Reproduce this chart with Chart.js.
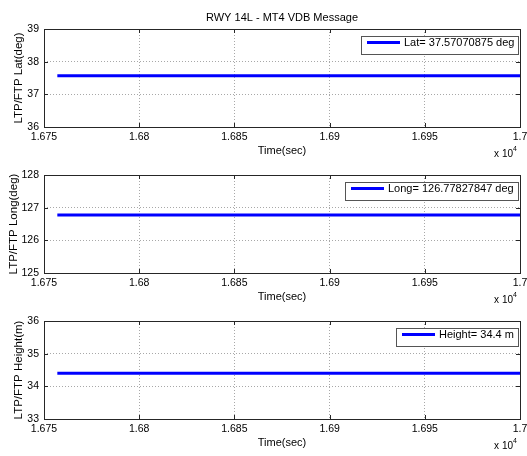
<!DOCTYPE html>
<html>
<head>
<meta charset="utf-8">
<title>RWY 14L - MT4 VDB Message</title>
<script src="https://cdn.jsdelivr.net/npm/chart.js@4.4.0/dist/chart.umd.min.js"></script>
<style>
  html, body { margin: 0; padding: 0; background: #fff; }
  #figure { position: relative; width: 527px; height: 456px; overflow: hidden; }
  .panel { position: absolute; left: 0; width: 527px; height: 164px; }
</style>
</head>
<body>
<div id="figure">
  <div class="panel" style="top:0px"><canvas id="lat-chart" width="527" height="164"></canvas></div>
  <div class="panel" style="top:146px"><canvas id="long-chart" width="527" height="164"></canvas></div>
  <div class="panel" style="top:292px"><canvas id="height-chart" width="527" height="164"></canvas></div>
</div>
<script>
const FONT = '"Liberation Sans", Arial, Helvetica, sans-serif';

// time stamps (sec) of the first and last samples
const timeSec = [16757, 17000];
const latDeg = [37.57070875, 37.57070875];
const longDeg = [126.77827847, 126.77827847];
const heightM = [34.4, 34.4];

const timeTicks = [16750, 16800, 16850, 16900, 16950, 17000];
const latTicks = [36, 37, 38, 39];
const longTicks = [125, 126, 127, 128];
const heightTicks = [33, 34, 35, 36];

const figTitle = "RWY 14L - MT4 VDB Message";
const xTitle = "Time(sec)";

function formatTime(value) {
  return String(Number((value / 10000).toFixed(4)));
}

// MATLAB-like axes box, inward ticks, in-axes legend and x10^4 multiplier
const matlabAxes = {
  id: "matlabAxes",
  afterDraw(chart) {
    const { ctx, chartArea: a, scales } = chart;
    ctx.save();

    ctx.strokeStyle = "#262626";
    ctx.lineWidth = 1;
    ctx.beginPath();
    for (const t of scales.x.ticks) {
      const px = Math.round(scales.x.getPixelForValue(t.value)) + 0.5;
      ctx.moveTo(px, a.bottom);
      ctx.lineTo(px, a.bottom - 4);
      ctx.moveTo(px, a.top);
      ctx.lineTo(px, a.top + 4);
    }
    for (const t of scales.y.ticks) {
      const py = Math.round(scales.y.getPixelForValue(t.value)) + 0.5;
      ctx.moveTo(a.left, py);
      ctx.lineTo(a.left + 4, py);
      ctx.moveTo(a.right, py);
      ctx.lineTo(a.right - 4, py);
    }
    ctx.stroke();
    ctx.strokeRect(a.left + 0.5, a.top + 0.5, a.right - a.left, a.bottom - a.top);

    // legend
    const ds = chart.data.datasets[0];
    ctx.font = `11px ${FONT}`;
    const tw = ctx.measureText(ds.label).width;
    const w = Math.round(6 + 33 + 4 + tw + 4);
    const right = Math.round(a.right - 2);
    const left = right - w;
    const top = a.top + 7;
    ctx.fillStyle = "#fff";
    ctx.fillRect(left, top, w, 18);
    ctx.strokeStyle = "#555";
    ctx.strokeRect(left + 0.5, top + 0.5, w, 18);
    ctx.strokeStyle = ds.borderColor;
    ctx.lineWidth = 3;
    ctx.beginPath();
    ctx.moveTo(left + 6, top + 6.5);
    ctx.lineTo(left + 39, top + 6.5);
    ctx.stroke();
    ctx.fillStyle = "#000";
    ctx.textBaseline = "middle";
    ctx.textAlign = "left";
    ctx.fillText(ds.label, left + 43, top + 7);

    // x 10^4
    ctx.textAlign = "right";
    ctx.font = `7px ${FONT}`;
    ctx.fillText("4", a.right - 3, a.bottom + 22);
    ctx.font = `10px ${FONT}`;
    ctx.fillText("x 10", a.right - 7, a.bottom + 27);

    ctx.restore();
  },
};

function makePanel(canvasId, label, values, yTicks, yTitle, yTitlePad, showTitle) {
  return new Chart(document.getElementById(canvasId), {
    type: "line",
    data: {
      datasets: [
        {
          label,
          data: timeSec.map((t, i) => ({ x: t, y: values[i] })),
          borderColor: "#0000ff",
          borderWidth: 3,
          pointRadius: 0,
          fill: false,
          tension: 0,
        },
      ],
    },
    options: {
      responsive: false,
      animation: false,
      events: [],
      layout: { padding: { top: showTitle ? 0 : 29, right: 7, left: 0, bottom: 0 } },
      plugins: {
        legend: { display: false },
        tooltip: { enabled: false },
        title: {
          display: showTitle,
          text: figTitle,
          fullSize: false,
          color: "#000",
          font: { family: FONT, size: 11, weight: "normal", lineHeight: 1 },
          padding: { top: 12, bottom: 6 },
        },
      },
      scales: {
        x: {
          type: "linear",
          min: timeTicks[0],
          max: timeTicks[timeTicks.length - 1],
          afterBuildTicks(scale) {
            scale.ticks = timeTicks.map((v) => ({ value: v }));
          },
          afterFit(scale) {
            scale.height = 37;
            scale.paddingLeft = 0;
            scale.paddingRight = 0;
          },
          grid: { color: "#a8a8a8", drawTicks: false },
          border: { display: false, dash: [1, 2] },
          ticks: {
            color: "#000",
            padding: 4,
            maxRotation: 0,
            autoSkip: false,
            font: { family: FONT, size: 10.5 },
            callback: (v) => formatTime(v),
          },
          title: {
            display: true,
            text: xTitle,
            color: "#000",
            font: { family: FONT, size: 11, lineHeight: 1 },
            padding: { top: 0, bottom: 7.5 },
          },
        },
        y: {
          min: yTicks[0],
          max: yTicks[yTicks.length - 1],
          afterBuildTicks(scale) {
            scale.ticks = yTicks.map((v) => ({ value: v }));
          },
          afterFit(scale) {
            scale.width = 44;
            scale.paddingTop = 0;
            scale.paddingBottom = 0;
          },
          grid: { color: "#a8a8a8", drawTicks: false },
          border: { display: false, dash: [1, 2] },
          ticks: {
            color: "#000",
            padding: 5,
            font: { family: FONT, size: 10.5 },
          },
          title: {
            display: true,
            text: yTitle,
            color: "#000",
            font: { family: FONT, size: 11.5, lineHeight: 1 },
            padding: { top: yTitlePad, bottom: 0 },
          },
        },
      },
    },
    plugins: [matlabAxes],
  });
}

makePanel("lat-chart", `Lat= ${latDeg[0]} deg`, latDeg, latTicks, "LTP/FTP Lat(deg)", 13.5, true);
makePanel("long-chart", `Long= ${longDeg[0]} deg`, longDeg, longTicks, "LTP/FTP Long(deg)", 8, false);
makePanel("height-chart", `Height= ${heightM[0]} m`, heightM, heightTicks, "LTP/FTP Height(m)", 13.5, false);
</script>
</body>
</html>
